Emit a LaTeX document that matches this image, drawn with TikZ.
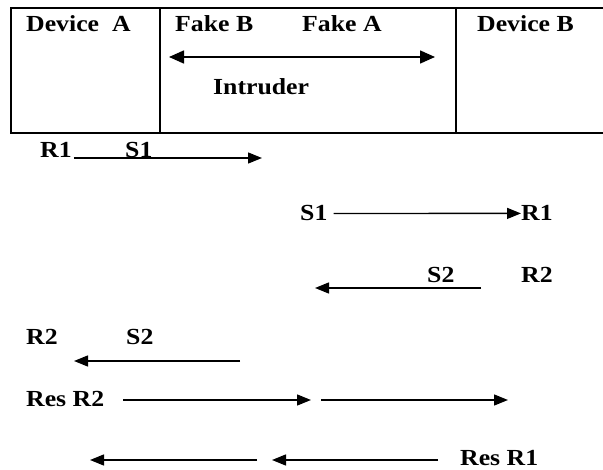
\documentclass[tikz,border=0pt]{standalone}
\usepackage{fontspec}
\setmainfont{Liberation Serif}[FakeStretch=1.12]
\usetikzlibrary{arrows.meta}
\begin{document}
\begin{tikzpicture}[x=1pt,y=-1pt]
		\tikzstyle{fleche}=[-{Triangle[length=14pt,width=11pt]},line width=1.4pt]
		\tikzstyle{doublefleche}=[{Triangle[length=15pt,width=13pt]}-{Triangle[length=15pt,width=13pt]},line width=1.6pt]
		\tikzstyle{texte}=[anchor=base west,inner sep=0pt,font=\fontsize{23}{27}\selectfont\bfseries]
		\tikzstyle{cadre}=[line width=2pt]
		\def\HautCadre{8}
		\def\BasCadre{133}
		\def\Droite{603}
		\useasboundingbox (0,0) rectangle (603,470);
		\draw[cadre] (\Droite,\HautCadre) -| (11,\BasCadre) -- (\Droite,\BasCadre);
		\draw[cadre] (160,\HautCadre) -- (160,\BasCadre);
		\draw[cadre] (456,\HautCadre) -- (456,\BasCadre);
		\node[texte] (DeviceA) at (26,32) {Device\ \ A};
		\node[texte] (FakeB) at (175,32) {Fake B};
		\node[texte] (FakeA) at (302,32) {Fake A};
		\node[texte] (DeviceB) at (477,32) {Device B};
		\node[texte] (Intruder) at (213,95) {Intruder};
		\coordinate (Ig) at (169,57);
		\coordinate (Id) at (435,57);
		\draw[doublefleche] (Ig)--(Id);
		\node[texte] (Ra) at (40,158) {R1};
		\node[texte] (Sa) at (125,158) {S1};
		\coordinate (Ta) at (262,158);
		\draw[fleche] ([xshift=2pt]Ra.base east)--(Ta);
		\node[texte] (Sb) at (300,221) {S1};
		\node[texte] (Rb) at (521,221) {R1};
		\draw[fleche] ([xshift=6pt]Sb.east)--(Rb.west);
		\node[texte] (Sc) at (427,283) {S2};
		\node[texte] (Rc) at (521,283) {R2};
		\coordinate (Dc) at (481,288);
		\coordinate (Ac) at (315,288);
		\draw[fleche] (Dc)--(Ac);
		\node[texte] (Rd) at (26,345) {R2};
		\node[texte] (Sd) at (126,345) {S2};
		\coordinate (Dd) at (240,361);
		\coordinate (Ad) at (74,361);
		\draw[fleche] (Dd)--(Ad);
		\node[texte] (Re) at (26,407) {Res R2};
		\coordinate (Dea) at (123,400);
		\coordinate (Aea) at (311,400);
		\coordinate (Deb) at (321,400);
		\coordinate (Aeb) at (508,400);
		\draw[fleche] (Dea)--(Aea);
		\draw[fleche] (Deb)--(Aeb);
		\node[texte] (Rf) at (460,465) {Res R1};
		\coordinate (Dfa) at (257,460);
		\coordinate (Afa) at (90,460);
		\coordinate (Dfb) at (438,460);
		\coordinate (Afb) at (272,460);
		\draw[fleche] (Dfa)--(Afa);
		\draw[fleche] (Dfb)--(Afb);
	\end{tikzpicture}
\end{document}
